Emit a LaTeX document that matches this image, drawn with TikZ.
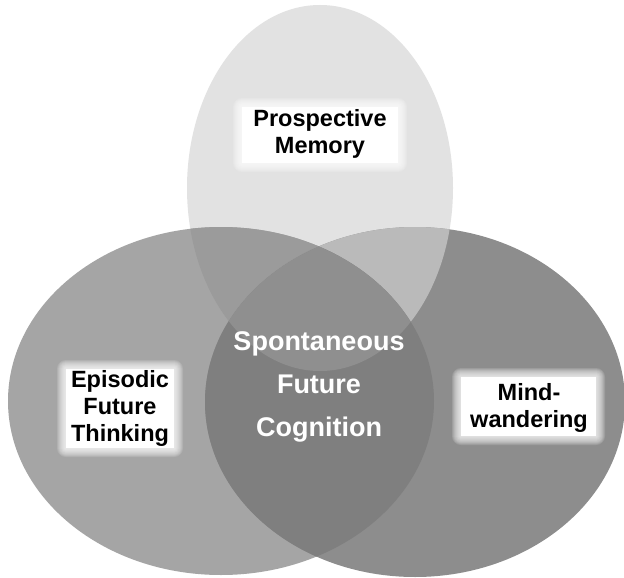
\documentclass[tikz,border=0pt]{standalone}
\usepackage{fontspec}
\setmainfont{Liberation Sans}
\definecolor{topc}{HTML}{E2E2E2}
\definecolor{leftc}{HTML}{A5A5A5}
\definecolor{rightc}{HTML}{8D8D8D}
\definecolor{tlc}{HTML}{9B9B9B}
\definecolor{trc}{HTML}{BABABA}
\definecolor{lrc}{HTML}{7F7F7F}
\definecolor{tlrc}{HTML}{8F8F8F}
\tikzset{
  lbl/.style={align=center, inner sep=0pt, text=black, font=\bfseries\fontsize{23.5}{27}\selectfont},
  centerlbl/.style={align=center, inner sep=0pt, text=white, font=\bfseries\fontsize{27}{43}\selectfont},
}
\newcommand{\glowbox}[4]{%
  \foreach \r in {9,8,...,1}{\fill[white,opacity=0.14,rounded corners=\r pt] ({#1-\r},{#2-\r}) rectangle ({#3+\r},{#4+\r});}
  \fill[white] (#1,#2) rectangle (#3,#4);}
\begin{document}
\begin{tikzpicture}[x=1pt,y=-1pt]
\useasboundingbox (0,0) rectangle (624,578);
\fill[white] (0,0) rectangle (624,578);
% base ellipses
\fill[topc] (320,188) ellipse [x radius=133pt, y radius=183pt];
\fill[leftc] (221,401) ellipse [x radius=213pt, y radius=174pt];
\fill[rightc] (415,402) ellipse [x radius=210pt, y radius=175pt];
% top & left
\begin{scope}
  \clip (320,188) ellipse [x radius=133pt, y radius=183pt];
  \fill[tlc] (221,401) ellipse [x radius=213pt, y radius=174pt];
\end{scope}
% top & right
\begin{scope}
  \clip (320,188) ellipse [x radius=133pt, y radius=183pt];
  \fill[trc] (415,402) ellipse [x radius=210pt, y radius=175pt];
\end{scope}
% left & right
\begin{scope}
  \clip (221,401) ellipse [x radius=213pt, y radius=174pt];
  \fill[lrc] (415,402) ellipse [x radius=210pt, y radius=175pt];
\end{scope}
% all three
\begin{scope}
  \clip (221,401) ellipse [x radius=213pt, y radius=174pt];
  \clip (415,402) ellipse [x radius=210pt, y radius=175pt];
  \fill[tlrc] (320,188) ellipse [x radius=133pt, y radius=183pt];
\end{scope}
% label boxes
\glowbox{242}{107}{398}{163}
\glowbox{66}{369}{174}{448}
\glowbox{461}{377}{596}{436}
% labels
\node[lbl] (pm) at (320,134) {Prospective\\Memory};
\node[lbl] (eft) at (120,408) {Episodic\\Future\\Thinking};
\node[lbl] (mw) at (529,408) {Mind-\\wandering};
\node[centerlbl] (sfc) at (319,387) {Spontaneous\\Future\\Cognition};
\end{tikzpicture}
\end{document}
